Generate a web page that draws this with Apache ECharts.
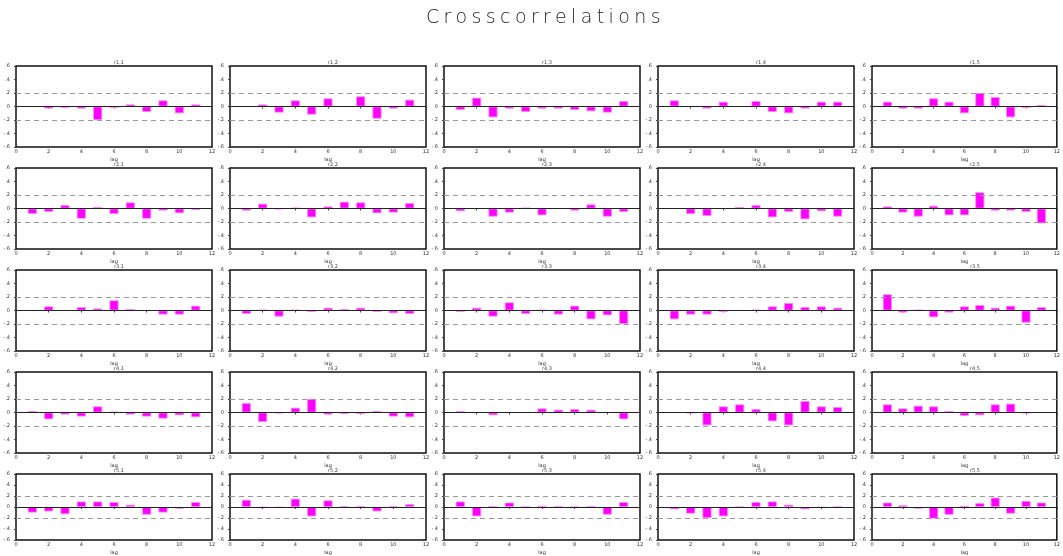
<!DOCTYPE html>
<html><head><meta charset="utf-8">
<script src="https://cdn.jsdelivr.net/npm/echarts@6/dist/echarts.min.js"></script>
<style>
html,body{margin:0;padding:0;background:#fff;}
#wrap{position:relative;width:1063px;height:556px;overflow:hidden;}
#chart{position:absolute;left:0;top:0;width:1063px;height:556px;}
#ttl{position:absolute;left:14px;top:5px;width:1063px;text-align:center;font-family:"DejaVu Sans",sans-serif;font-weight:200;font-size:19px;letter-spacing:4.4px;color:#222;}
</style></head>
<body><div id="wrap"><div id="chart"></div><div id="ttl">Crosscorrelations</div></div>
<script>
const lags = [1,2,3,4,5,6,7,8,9,10,11];
const xTicks = [0,2,4,6,8,10,12];
const yTicks = [-0.6,-0.4,-0.2,0,0.2,0.4,0.6];
const band = 0.2;
const r1c1 = [0,-0.03,-0.02,-0.03,-0.2,-0.02,0.03,-0.08,0.09,-0.1,0.03];
const r1c2 = [0,0.03,-0.09,0.09,-0.12,0.12,0,0.15,-0.18,-0.03,0.1];
const r1c3 = [-0.05,0.13,-0.16,-0.03,-0.08,-0.03,-0.03,-0.05,-0.07,-0.09,0.08];
const r1c4 = [0.09,0,-0.03,0.07,0,0.08,-0.08,-0.1,-0.03,0.07,0.07];
const r1c5 = [0.07,-0.03,-0.03,0.12,0.07,-0.1,0.2,0.14,-0.16,-0.02,0.02];
const r2c1 = [-0.08,-0.05,0.05,-0.15,0.02,-0.08,0.09,-0.15,-0.03,-0.07,-0.02];
const r2c2 = [-0.03,0.07,-0.01,0.01,-0.13,0.03,0.1,0.09,-0.07,-0.06,0.08];
const r2c3 = [-0.04,0,-0.12,-0.06,0.01,-0.1,0,-0.03,0.06,-0.12,-0.05];
const r2c4 = [0,-0.08,-0.11,0,0.02,0.05,-0.13,-0.05,-0.16,-0.04,-0.12];
const r2c5 = [0.03,-0.06,-0.12,0.04,-0.1,-0.1,0.24,-0.03,-0.03,-0.05,-0.22];
const r3c1 = [0,0.06,0,0.05,0.03,0.15,0.02,0,-0.06,-0.06,0.07];
const r3c2 = [-0.05,0.01,-0.09,0.01,-0.02,0.04,0.02,0.04,-0.02,-0.04,-0.05];
const r3c3 = [-0.02,0.04,-0.09,0.12,-0.05,0.01,-0.06,0.07,-0.13,-0.07,-0.2];
const r3c4 = [-0.13,-0.06,-0.06,-0.02,0,0.01,0.06,0.11,0.05,0.06,0.04];
const r3c5 = [0.24,-0.03,0.01,-0.1,-0.03,0.06,0.08,0.04,0.07,-0.18,0.05];
const r4c1 = [0.02,-0.1,-0.03,-0.06,0.09,0.01,-0.03,-0.06,-0.09,-0.04,-0.07];
const r4c2 = [0.14,-0.14,-0.01,0.07,0.2,-0.03,-0.02,-0.02,0.02,-0.06,-0.07];
const r4c3 = [0.02,0,-0.04,0,0,0.06,0.04,0.05,0.04,0,-0.1];
const r4c4 = [0,-0.01,-0.19,0.09,0.12,0.05,-0.13,-0.19,0.17,0.09,0.08];
const r4c5 = [0.12,0.06,0.1,0.09,0.02,-0.05,-0.04,0.12,0.13,-0.01,0];
const r5c1 = [-0.1,-0.08,-0.13,0.1,0.1,0.09,0.04,-0.14,-0.1,-0.03,0.09];
const r5c2 = [0.13,-0.01,-0.01,0.15,-0.17,0.12,0.01,0.01,-0.08,0.01,0.05];
const r5c3 = [0.1,-0.17,0.01,0.08,0,0.02,0.01,0,0.01,-0.14,0.09];
const r5c4 = [-0.04,-0.12,-0.2,-0.17,0,0.09,0.1,0.04,-0.04,-0.01,0];
const r5c5 = [0.08,0.03,-0.03,-0.21,-0.14,0.02,0.07,0.17,-0.12,0.11,0.08];
const panels = [
  [r1c1,r1c2,r1c3,r1c4,r1c5],
  [r2c1,r2c2,r2c3,r2c4,r2c5],
  [r3c1,r3c2,r3c3,r3c4,r3c5],
  [r4c1,r4c2,r4c3,r4c4,r4c5],
  [r5c1,r5c2,r5c3,r5c4,r5c5]
];

const grids=[],xAxes=[],yAxes=[],series=[],titles=[];
const tiny={fontSize:5,color:'#333',fontFamily:'DejaVu Sans'};
panels.forEach((row,r)=>row.forEach((vals,c)=>{
  const i=grids.length;
  const left=16+c*214, top=66+r*102, w=196, h=81;
  grids.push({left:left,top:top,width:w,height:h,show:true,borderColor:'#111',borderWidth:1.5,backgroundColor:'#fff'});
  titles.push({text:'r'+(r+1)+','+(c+1),left:left+w/2,top:top-11,textAlign:'center',textStyle:{fontSize:5,color:'#444',fontWeight:'normal',fontFamily:'DejaVu Sans'}});
  xAxes.push({gridIndex:i,type:'value',min:xTicks[0],max:xTicks[xTicks.length-1],interval:2,
    axisLine:{show:false},axisTick:{show:true,length:2,lineStyle:{color:'#444'}},
    axisLabel:{...tiny,margin:2},splitLine:{show:false},
    name:'lag',nameLocation:'middle',nameGap:10,nameTextStyle:tiny});
  yAxes.push({gridIndex:i,type:'value',min:yTicks[0],max:yTicks[yTicks.length-1],interval:0.2,
    axisLine:{show:false},axisTick:{show:true,length:2,lineStyle:{color:'#444'}},
    axisLabel:{...tiny,margin:6,formatter:v=>(Math.round(v*10)/10).toString().replace('0.','.')},splitLine:{show:false}});
  series.push({type:'bar',xAxisIndex:i,yAxisIndex:i,barWidth:9,
    data:lags.map((l,k)=>[l,vals[k]]),
    itemStyle:{color:'#ff00ff',borderColor:'#ff88ff',borderWidth:0.8},
    silent:true,animation:false,
    markLine:{silent:true,symbol:'none',label:{show:false},animation:false,
      data:[
        {yAxis:0,lineStyle:{color:'#222',type:'solid',width:1}},
        {yAxis:band,lineStyle:{color:'#999',type:[5,4],width:1}},
        {yAxis:-band,lineStyle:{color:'#999',type:[5,4],width:1}}
      ]}});
}));
const chart=echarts.init(document.getElementById('chart'),null,{renderer:'canvas'});
chart.setOption({animation:false,backgroundColor:'#fff',title:titles,grid:grids,xAxis:xAxes,yAxis:yAxes,series:series});
</script></body></html>
